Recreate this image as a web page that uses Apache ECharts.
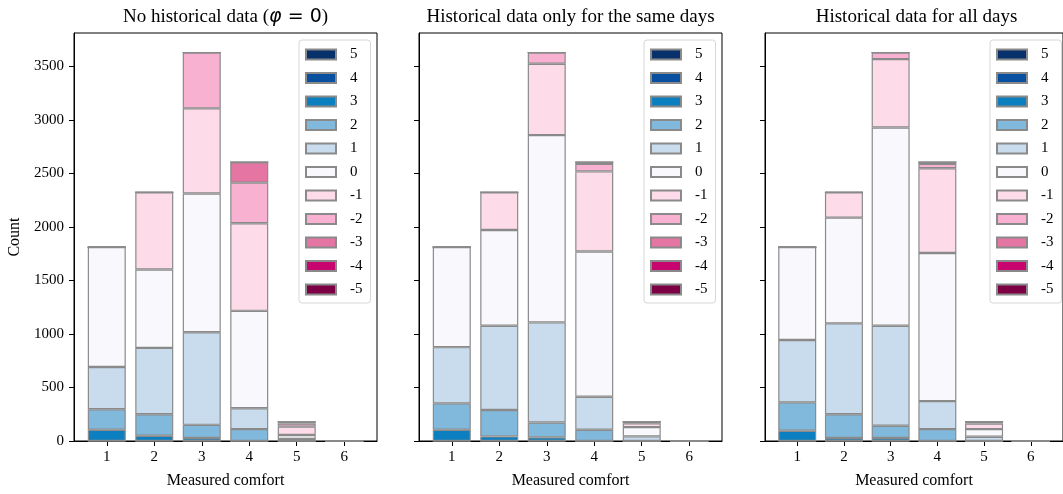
<!DOCTYPE html>
<html><head><meta charset="utf-8">
<script src="https://cdn.jsdelivr.net/npm/echarts@6/dist/echarts.min.js"></script>
<style>html,body{margin:0;padding:0;background:#fff}#c{width:1063px;height:494px}</style>
</head><body><div id="c"></div>
<script>
const categories = [1, 2, 3, 4, 5, 6];
const levels = ['5', '4', '3', '2', '1', '0', '-1', '-2', '-3', '-4', '-5'];
const levelColors = ['#08306b', '#0a50a0', '#0b7fc0', '#80b9dc', '#c8dcee', '#f9f9fd',
                     '#fddbe8', '#f8b1d0', '#e576a4', '#c8056f', '#7d0045'];
const yTicks = [0, 500, 1000, 1500, 2000, 2500, 3000, 3500];
const panelTitles = [
  '{a|No historical data (}{m|φ}{b| = 0}{a|)}',
  '{a|Historical data only for the same days}',
  '{a|Historical data for all days}'
];
const xName = 'Measured comfort';
const yName = 'Count';

// rows follow `levels`, columns follow `categories`
const noHistory = [
  [0, 0, 0, 0, 0, 0],
  [0, 0, 0, 0, 0, 0],
  [105, 49, 28, 0, 0, 0],
  [191, 201, 123, 111, 0, 0],
  [396, 620, 865, 195, 18, 0],
  [1120, 732, 1296, 910, 38, 2],
  [0, 722, 796, 818, 78, 0],
  [0, 0, 522, 380, 30, 0],
  [0, 0, 0, 191, 16, 0],
  [0, 0, 0, 0, 0, 0],
  [0, 0, 0, 0, 0, 0]
];
const sameDays = [
  [0, 0, 0, 0, 0, 0],
  [0, 0, 0, 0, 0, 0],
  [105, 43, 34, 0, 0, 0],
  [247, 247, 139, 105, 0, 0],
  [525, 787, 935, 309, 43, 0],
  [935, 895, 1750, 1357, 87, 2],
  [0, 352, 667, 748, 35, 0],
  [0, 0, 105, 70, 15, 0],
  [0, 0, 0, 16, 0, 0],
  [0, 0, 0, 0, 0, 0],
  [0, 0, 0, 0, 0, 0]
];
const allDays = [
  [0, 0, 0, 0, 0, 0],
  [0, 0, 0, 0, 0, 0],
  [96, 28, 28, 0, 0, 0],
  [265, 222, 114, 111, 0, 0],
  [583, 849, 935, 262, 40, 0],
  [868, 988, 1852, 1383, 71, 2],
  [0, 237, 639, 793, 53, 0],
  [0, 0, 62, 40, 16, 0],
  [0, 0, 0, 16, 0, 0],
  [0, 0, 0, 0, 0, 0],
  [0, 0, 0, 0, 0, 0]
];
const panels = [noHistory, sameDays, allDays];

const SERIF = 'Liberation Serif';
const gridLefts = [74, 419, 765];
const gridTop = 33, gridW = 303, gridH = 410;

const grids = [], xAxes = [], yAxes = [], series = [], legends = [], graphics = [];
panels.forEach((rows, p) => {
  grids.push({ left: gridLefts[p], top: gridTop, width: gridW, height: gridH,
    show: true, borderColor: '#000', borderWidth: 1, backgroundColor: '#fff' });
  xAxes.push({
    gridIndex: p, type: 'value', min: 0.31, max: 6.69,
    name: xName, nameLocation: 'middle', nameGap: 32,
    nameTextStyle: { fontFamily: SERIF, fontSize: 16, color: '#000' },
    axisLine: { show: true, onZero: false, lineStyle: { color: '#000', width: 1 } },
    axisTick: { show: true, inside: false, length: 5, customValues: categories, lineStyle: { color: '#000' } },
    axisLabel: { customValues: categories, margin: 9, fontFamily: SERIF, fontSize: 15, color: '#000',
                 formatter: v => String(v) },
    splitLine: { show: false }
  });
  yAxes.push({
    gridIndex: p, type: 'value', min: 0, max: 3812,
    name: p === 0 ? yName : '', nameLocation: 'middle', nameGap: 51,
    nameTextStyle: { fontFamily: SERIF, fontSize: 16, color: '#000' },
    axisLine: { show: true, onZero: false, lineStyle: { color: '#000', width: 1 } },
    axisTick: { show: true, inside: false, length: 5, customValues: yTicks, lineStyle: { color: '#000' } },
    axisLabel: { show: p === 0, customValues: yTicks, margin: 10, fontFamily: SERIF, fontSize: 15, color: '#000',
                 formatter: v => String(v) },
    splitLine: { show: false }
  });
  levels.forEach((lv, k) => {
    series.push({
      type: 'bar', name: lv, xAxisIndex: p, yAxisIndex: p, stack: 'panel' + p,
      barWidth: 38,
      encode: { x: 1, y: 0 },
      itemStyle: { color: levelColors[k], borderColor: '#8a8a8a', borderWidth: 1.2 },
      emphasis: { disabled: true },
      data: categories.map((c, i) => [rows[k][i], c])
    });
  });
  legends.push({
    data: levels, orient: 'vertical', left: gridLefts[p] + 225, top: 40,
    icon: 'rect',
    itemWidth: 30, itemHeight: 10, itemGap: 8.5, selectedMode: false,
    padding: [7, 8, 6, 6],
    backgroundColor: '#fff', borderColor: '#d6d6d6', borderWidth: 1, borderRadius: 3,
    textStyle: { fontFamily: SERIF, fontSize: 15, color: '#000', padding: [0, 0, 0, 9] }
  });
  graphics.push({
    type: 'text', x: gridLefts[p] + gridW / 2, y: 17,
    style: {
      text: panelTitles[p], textAlign: 'center', textVerticalAlign: 'middle',
      rich: {
        a: { fontFamily: SERIF, fontSize: 19, fill: '#000' },
        m: { fontFamily: 'DejaVu Sans', fontStyle: 'italic', fontSize: 19, fill: '#000' },
        b: { fontFamily: 'DejaVu Sans', fontSize: 19, fill: '#000' }
      }
    }
  });
});

const chart = echarts.init(document.getElementById('c'), null, { renderer: 'canvas' });
chart.setOption({
  animation: false,
  backgroundColor: '#fff',
  grid: grids, xAxis: xAxes, yAxis: yAxes, series: series, legend: legends,
  graphic: graphics
});
</script>
</body></html>
